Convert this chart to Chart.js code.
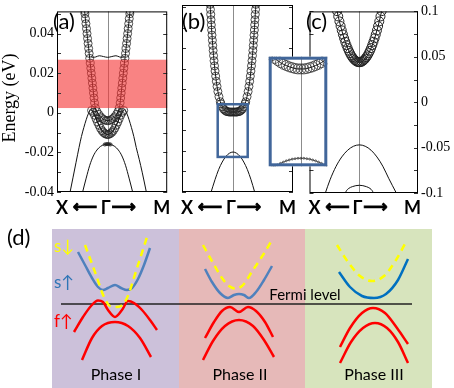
<!DOCTYPE html>
<html>
<head>
<meta charset="utf-8">
<script src="https://cdn.jsdelivr.net/npm/chart.js@4"></script>
<style>
  body { margin: 0; background: #fff; }
  #wrap { position: relative; width: 454px; height: 388px; overflow: hidden; }
  canvas { position: absolute; }
</style>
</head>
<body>
<div id="wrap">
  <canvas id="pa" width="172" height="222" style="left:0;top:0"></canvas>
  <canvas id="pb" width="122" height="222" style="left:176px;top:0"></canvas>
  <canvas id="pc" width="150" height="222" style="left:304px;top:0"></canvas>
  <canvas id="pi" width="70" height="121" style="left:263px;top:51px"></canvas>
  <canvas id="pd" width="454" height="166" style="left:0;top:222px"></canvas>
</div>
<script>
// k runs X <- Gamma(0) -> M, energies in eV
var kRange = [-0.85, 1.0];
var eRangeAB = [-0.04, 0.0512];
var eRangeC = [-0.1, 0.1];
var redWindow = [0.0024, 0.0268];
var zoomBoxK = [-0.255, 0.245];
var zoomBoxE = [-0.0229, 0.0028];

// panel (a)
var aOuterK = [-0.387,-0.382,-0.373,-0.364,-0.355,-0.346,-0.337,-0.328,-0.319,-0.31,-0.301,-0.292,-0.283,-0.274,-0.265,-0.256,-0.247,-0.238,-0.229,-0.22,
  -0.205,-0.18,-0.15,-0.12,-0.09,-0.06,-0.03,0,0.03,0.06,0.09,0.12,0.15,0.175,0.195,
  0.21,0.219,0.228,0.237,0.246,0.255,0.264,0.273,0.282,0.291,0.3,0.309,0.318,0.327,0.336,0.345,0.354,0.363,0.372,0.377];
var aOuterE = [0.0515,0.05,0.0475,0.045,0.0425,0.04,0.0375,0.035,0.0325,0.03,0.0275,0.025,0.0225,0.02,0.0175,0.015,0.0125,0.01,0.0075,0.005,
  0.0025,0.0006,-0.0008,-0.002,-0.0029,-0.0035,-0.0039,-0.004,-0.0039,-0.0035,-0.0029,-0.002,-0.0008,0.0006,0.0025,
  0.005,0.0075,0.01,0.0125,0.015,0.0175,0.02,0.0225,0.025,0.0275,0.03,0.0325,0.035,0.0375,0.04,0.0425,0.045,0.0475,0.05,0.0515];
var aInnerCK = [-0.27,-0.245,-0.22,-0.195,-0.17,-0.145,-0.12,-0.095,-0.07,-0.045,-0.02,0,0.02,0.045,0.07,0.095,0.12,0.145,0.17,0.195,0.22,0.245,0.27];
var aInnerCE = [0.0012,0.0002,-0.0012,-0.003,-0.0047,-0.0063,-0.0078,-0.009,-0.0099,-0.0105,-0.0109,-0.011,-0.0109,-0.0105,-0.0099,-0.009,-0.0078,-0.0063,-0.0047,-0.003,-0.0012,0.0002,0.0012];
var aInnerK = [-0.63,-0.58,-0.53,-0.48,-0.44,-0.4,-0.36,-0.32,-0.28,-0.24,-0.2,-0.15,-0.1,-0.05,0,0.05,0.1,0.15,0.2,0.24,0.28,0.32,0.36,0.4,0.44,0.48,0.53,0.58,0.65];
var aInnerE = [-0.04,-0.0325,-0.025,-0.0175,-0.012,-0.0075,-0.0035,-0.0002,0.0016,0.0,-0.0025,-0.006,-0.0088,-0.0104,-0.011,-0.0104,-0.0088,-0.006,-0.0025,0.0,0.0016,-0.0002,-0.0035,-0.0075,-0.012,-0.0175,-0.0235,-0.03,-0.04];
var aFlatK = [-0.28,-0.25,-0.2,-0.14,-0.07,0,0.07,0.14,0.2,0.25,0.28];
var aFlatE = [0.0283,0.028,0.0282,0.0288,0.0284,0.028,0.0284,0.0288,0.0282,0.028,0.0283];
var aHumpK = [-0.42,-0.36,-0.3,-0.24,-0.18,-0.12,-0.06,0,0.06,0.12,0.18,0.24,0.3,0.36,0.42];
var aHumpE = [-0.04,-0.033,-0.0265,-0.0218,-0.0188,-0.017,-0.0161,-0.0158,-0.0161,-0.017,-0.0188,-0.0218,-0.0265,-0.033,-0.04];
var aHumpDotK = [-0.05,-0.03,-0.01,0.01,0.03,0.05];
var aHumpDotE = [-0.016,-0.0159,-0.0158,-0.0158,-0.0159,-0.016];

// panel (b)
var bBandK = [-0.381,-0.376,-0.371,-0.366,-0.361,-0.356,-0.35,-0.344,-0.338,-0.331,-0.324,-0.316,-0.308,-0.299,-0.289,-0.278,-0.266,-0.252,-0.234,-0.212,
  -0.2,-0.18,-0.16,-0.14,-0.12,-0.1,-0.08,-0.06,-0.04,-0.02,0,0.02,0.04,0.06,0.08,0.1,0.12,0.14,0.16,0.18,0.2,
  0.212,0.234,0.252,0.266,0.278,0.289,0.299,0.308,0.316,0.324,0.331,0.338,0.344,0.35,0.356,0.361,0.366,0.371,0.376,0.381];
var bBandE = [0.0515,0.049,0.0465,0.044,0.0415,0.039,0.0365,0.034,0.0315,0.029,0.0265,0.024,0.0215,0.019,0.0165,0.014,0.0115,0.009,0.0065,0.004,
  0.003,0.0016,0.0006,0.0,-0.0005,-0.0008,-0.0009,-0.001,-0.001,-0.001,-0.001,-0.001,-0.001,-0.001,-0.0009,-0.0008,-0.0005,0.0,0.0006,0.0016,0.003,
  0.004,0.0065,0.009,0.0115,0.014,0.0165,0.019,0.0215,0.024,0.0265,0.029,0.0315,0.034,0.0365,0.039,0.0415,0.044,0.0465,0.049,0.0515];
var bLowK = [-0.37,-0.3,-0.24,-0.18,-0.12,-0.06,0,0.06,0.12,0.18,0.24,0.3,0.36];
var bLowE = [-0.0405,-0.034,-0.0291,-0.0254,-0.0227,-0.0211,-0.0205,-0.0211,-0.0227,-0.0254,-0.0291,-0.034,-0.0399];

// inset of (b)
var insetK = [-0.275, 0.225];
var insetE = [-0.023, 0.003];
var insetUpK = [-0.3,-0.275,-0.25,-0.225,-0.2,-0.175,-0.15,-0.125,-0.1,-0.075,-0.05,-0.025,0,0.025,0.05,0.075,0.1,0.125,0.15,0.175,0.2,0.225,0.25];
var insetUpE = [0.0046,0.0039,0.0032,0.0026,0.0021,0.0016,0.0012,0.0009,0.0006,0.0004,0.0002,0.0001,0.0001,0.0001,0.0002,0.0004,0.0006,0.0009,0.0012,0.0016,0.0021,0.0026,0.0032];
var insetLowK = [-0.275,-0.25,-0.225,-0.2,-0.175,-0.15,-0.125,-0.1,-0.075,-0.05,-0.025,0,0.025,0.05,0.075,0.1,0.125,0.15,0.175,0.2,0.225];
var insetLowE = [-0.0236,-0.0233,-0.023,-0.0227,-0.0223,-0.022,-0.0217,-0.0215,-0.0213,-0.0212,-0.0211,-0.0211,-0.0211,-0.0212,-0.0213,-0.0215,-0.0217,-0.022,-0.0223,-0.0227,-0.0231];

// panel (c)
var cBandK = [-0.38,-0.36,-0.34,-0.32,-0.3,-0.28,-0.26,-0.24,-0.22,-0.2,-0.18,-0.16,-0.14,-0.12,-0.1,-0.08,-0.06,-0.04,-0.02,0,
  0.02,0.04,0.06,0.08,0.1,0.12,0.14,0.16,0.18,0.2,0.22,0.24,0.26,0.28,0.3,0.32,0.34,0.36,0.38];
var cBandE = [0.1003,0.0945,0.089,0.0839,0.0791,0.0746,0.0704,0.0665,0.0629,0.0596,0.0566,0.054,0.0516,0.0496,0.0479,0.0465,0.0454,0.0446,0.0442,0.044,
  0.0442,0.0446,0.0454,0.0465,0.0479,0.0496,0.0516,0.054,0.0566,0.0596,0.0629,0.0665,0.0704,0.0746,0.0791,0.0839,0.089,0.0945,0.1003];
var cLow1K = [-0.58,-0.5,-0.4,-0.3,-0.2,-0.1,0,0.1,0.2,0.3,0.4,0.5,0.63];
var cLow1E = [-0.1,-0.0855,-0.071,-0.0603,-0.0529,-0.0485,-0.047,-0.0485,-0.0529,-0.0603,-0.0705,-0.0838,-0.1];
var cLow2K = [-0.24,-0.22,-0.18,-0.12,-0.06,0,0.06,0.12,0.18,0.22,0.24];
var cLow2E = [-0.1,-0.0975,-0.0949,-0.093,-0.0919,-0.0915,-0.0919,-0.093,-0.0949,-0.0975,-0.1];

// sketch (d): k offset from the phase centre, energy relative to the Fermi level
var phaseNames = ['Phase I', 'Phase II', 'Phase III'];
var phaseCenters = [11.6, 23.9, 37.4];
var phaseEdges = [5.2, 17.9, 30.5, 43.2];
var sketchTop = 7.5;
var fermiSpan = [6.1, 41.2];
var sDown = [
  [[-3.1,5.9],[-2.1,3.2],[-1.2,0.7],[-0.6,-0.2],[0,-0.3],[0.5,-0.2],[1.1,0.6],[2.1,3.6],[3.1,6.7]],
  [[-3.6,5.9],[-2.6,4.1],[-1.7,2.6],[-1.0,1.8],[-0.4,1.55],[0.3,1.8],[1.4,3.4],[2.4,4.9],[3.3,6.4]],
  [[-3.7,5.9],[-2.6,4.2],[-1.4,2.8],[-0.2,2.3],[1.0,2.8],[2.2,4.4],[3.2,6.2]]
];
var sUp = [
  [[-3.8,5.2],[-3.1,3.9],[-2.4,2.6],[-1.8,1.7],[-1.3,1.4],[-0.8,1.6],[-0.1,1.9],[0.5,1.6],[1.1,1.4],[1.6,1.6],[2.2,2.5],[2.8,3.9],[3.4,5.6]],
  [[-3.4,3.5],[-2.7,2.2],[-1.9,1.1],[-1.1,0.6],[-0.5,0.9],[0,1.0],[0.5,0.9],[1.0,0.6],[1.7,1.2],[2.5,2.4],[3.3,3.8]],
  [[-3.5,3.2],[-2.4,1.7],[-1.2,0.8],[0,0.6],[1.2,1.0],[2.4,2.4],[3.4,4.5]]
];
var fUpTop = [
  [[-4.2,-2.8],[-3.3,-1.3],[-2.5,-0.2],[-1.8,0.35],[-1.3,0.2],[-0.8,-0.6],[-0.1,-1.3],[0.6,-0.6],[1.2,0.3],[1.8,0.1],[2.6,-0.6],[3.4,-1.6],[4.1,-2.6]],
  [[-3.4,-3.4],[-2.5,-1.8],[-1.7,-0.7],[-0.9,-0.3],[0,-0.8],[0.9,-0.3],[1.7,-0.7],[2.6,-1.8],[3.4,-3.3]],
  [[-3.4,-4.3],[-2.4,-2.4],[-1.2,-0.9],[-0.1,-0.4],[1.1,-0.9],[2.3,-2.4],[3.4,-4.0]]
];
var fUpLow = [
  [[-3.4,-5.6],[-2.4,-3.4],[-1.4,-2.2],[-0.1,-1.8],[1.2,-2.2],[2.4,-3.4],[3.5,-5.3]],
  [[-3.6,-5.6],[-2.6,-3.7],[-1.4,-2.2],[0,-1.6],[1.4,-2.2],[2.5,-3.6],[3.5,-5.3]],
  [[-3.4,-5.9],[-2.3,-3.8],[-1.1,-2.4],[0.1,-1.9],[1.3,-2.4],[2.4,-3.8],[3.4,-5.9]]
];

function zip(k, e) {
  return k.map(function(v, i) { return {x: v, y: e[i]}; });
}

function bandLine(k, e) {
  return {data: zip(k, e), showLine: true, borderColor: '#111', borderWidth: 1,
    pointRadius: 0, cubicInterpolationMode: 'monotone'};
}

function bandCircles(k, e, r, lw, bw) {
  return {data: zip(k, e), showLine: true, borderColor: '#111', borderWidth: bw || 1,
    pointRadius: r, pointBorderColor: '#222', pointBorderWidth: lw || 0.8,
    pointBackgroundColor: 'rgba(0,0,0,0)', cubicInterpolationMode: 'monotone'};
}

function drawArrowText(ctx, s, x, y) {
  ctx.strokeText(s, x, y);
  ctx.fillText(s, x, y);
}

function panelDeco(opt) {
  return {
    id: 'panelDeco',
    beforeDatasetsDraw: function(chart) {
      var ctx = chart.ctx, a = chart.chartArea;
      ctx.save();
      if (opt.white) {
        ctx.fillStyle = '#fff';
        ctx.fillRect(a.left, a.top, a.right - a.left, a.bottom - a.top);
      }
      var gx = Math.round(chart.scales.x.getPixelForValue(0)) + 0.5;
      ctx.strokeStyle = '#8c8c8c';
      ctx.lineWidth = 1;
      ctx.beginPath();
      ctx.moveTo(gx, a.top);
      ctx.lineTo(gx, a.bottom);
      ctx.stroke();
      ctx.restore();
    },
    afterDatasetsDraw: function(chart) {
      var ctx = chart.ctx, a = chart.chartArea;
      var x = chart.scales.x, y = chart.scales.y;
      ctx.save();
      if (opt.window) {
        var w1 = y.getPixelForValue(opt.window[1]), w0 = y.getPixelForValue(opt.window[0]);
        ctx.fillStyle = 'rgba(245,55,55,0.62)';
        ctx.fillRect(a.left, w1, a.right - a.left, w0 - w1);
      }
      if (opt.box) {
        var bx0 = x.getPixelForValue(opt.box[0][0]), bx1 = x.getPixelForValue(opt.box[0][1]);
        var by0 = y.getPixelForValue(opt.box[1][0]), by1 = y.getPixelForValue(opt.box[1][1]);
        ctx.strokeStyle = '#41669a';
        ctx.lineWidth = 2.5;
        ctx.strokeRect(bx0, by1, bx1 - bx0, by0 - by1);
      }
      if (opt.ticks) {
        ctx.strokeStyle = '#333';
        ctx.lineWidth = 1;
        ctx.beginPath();
        y.ticks.forEach(function(t) {
          var py = Math.round(y.getPixelForValue(t.value)) + 0.5;
          ctx.moveTo(a.left, py); ctx.lineTo(a.left + 4, py);
          ctx.moveTo(a.right - 4, py); ctx.lineTo(a.right, py);
        });
        ctx.stroke();
      }
      ctx.strokeStyle = opt.frame || '#000';
      ctx.lineWidth = opt.frameWidth || 1;
      var h = ctx.lineWidth / 2;
      ctx.strokeRect(a.left + h, a.top + h, a.right - a.left - 2 * h, a.bottom - a.top - 2 * h);

      if (opt.path) {
        var gx = x.getPixelForValue(0), ty = 208;
        ctx.fillStyle = '#000';
        ctx.strokeStyle = '#000';
        ctx.lineWidth = 0.9;
        ctx.textAlign = 'center';
        ctx.textBaseline = 'middle';
        ctx.font = 'bold 18px Lato, sans-serif';
        ctx.fillText('X', a.left + 5, ty);
        ctx.fillText('\u0393', gx - 2, ty);
        ctx.fillText('M', a.right - 5.5, ty);
        ctx.font = 'bold 17px "DejaVu Sans", sans-serif';
        drawArrowText(ctx, '\u27F5', a.left + 28, ty);
        drawArrowText(ctx, '\u27F6', gx + 16, ty);
      }
      if (opt.tag) {
        ctx.fillStyle = '#000';
        ctx.textAlign = 'left';
        ctx.textBaseline = 'middle';
        ctx.font = '22px Lato, sans-serif';
        ctx.fillText(opt.tag[0], opt.tag[1], 22);
      }
      if (opt.ytitle) {
        ctx.translate(10, 98);
        ctx.rotate(-Math.PI / 2);
        ctx.fillStyle = '#000';
        ctx.textAlign = 'center';
        ctx.textBaseline = 'middle';
        ctx.font = '18px "Liberation Serif", serif';
        ctx.fillText('Energy (eV)', 0, 0);
      }
      ctx.restore();
    }
  };
}

var serif = {family: '"Liberation Serif", "Times New Roman", serif', size: 14};

function baseOptions(pad, yAxis) {
  return {
    responsive: false,
    animation: false,
    layout: {padding: pad},
    plugins: {legend: {display: false}, tooltip: {enabled: false}},
    scales: {x: {type: 'linear', min: kRange[0], max: kRange[1], display: false}, y: yAxis}
  };
}

// (a)
new Chart(document.getElementById('pa'), {
  type: 'scatter',
  data: {datasets: [
    bandCircles(aOuterK, aOuterE, 4),
    bandCircles(aInnerCK, aInnerCE, 4),
    bandCircles(aHumpDotK, aHumpDotE, 1.5),
    bandLine(aInnerK, aInnerE),
    bandLine(aFlatK, aFlatE),
    bandLine(aHumpK, aHumpE)
  ]},
  options: baseOptions({top: 5, right: 4, bottom: 30, left: 0}, {
    type: 'linear', position: 'left', min: eRangeAB[0], max: eRangeAB[1],
    afterFit: function(s) { s.width = 57; },
    grid: {display: false, drawTicks: false},
    border: {display: false},
    ticks: {stepSize: 0.01, includeBounds: false, autoSkip: false, padding: 3, color: '#000', font: serif,
      callback: function(v) {
        var r = Math.round(v * 100);
        if (r % 2 !== 0) return '';
        return r === 0 ? '0' : (r / 100).toFixed(2);
      }}
  }),
  plugins: [panelDeco({window: redWindow, ticks: true, path: true, tag: ['(a)', 53], ytitle: true})]
});

// (b)
new Chart(document.getElementById('pb'), {
  type: 'scatter',
  data: {datasets: [
    bandCircles(bBandK, bBandE, 4),
    bandLine(bLowK, bLowE)
  ]},
  options: baseOptions({top: 5, right: 5, bottom: 30, left: 0}, {
    type: 'linear', position: 'left', min: eRangeAB[0], max: eRangeAB[1],
    afterFit: function(s) { s.width = 6; },
    grid: {display: false, drawTicks: false},
    border: {display: false},
    ticks: {stepSize: 0.01, includeBounds: false, display: false}
  }),
  plugins: [panelDeco({box: [zoomBoxK, zoomBoxE], ticks: true, path: true, tag: ['(b)', 6]})]
});

// (c)
new Chart(document.getElementById('pc'), {
  type: 'scatter',
  data: {datasets: [
    bandCircles(cBandK, cBandE, 4.5, 1),
    bandLine(cLow1K, cLow1E),
    bandLine(cLow2K, cLow2E)
  ]},
  options: baseOptions({top: 5, right: 0, bottom: 29, left: 4}, {
    type: 'linear', position: 'right', min: eRangeC[0], max: eRangeC[1],
    afterFit: function(s) { s.width = 36; },
    grid: {display: false, drawTicks: false},
    border: {display: false},
    ticks: {stepSize: 0.025, includeBounds: false, autoSkip: false, padding: 3, color: '#000', font: serif,
      callback: function(v) {
        var r = Math.round(v * 1000);
        if (r % 50 !== 0) return '';
        return r === 0 ? '0' : String(r / 1000);
      }}
  }),
  plugins: [panelDeco({ticks: true, path: true, tag: ['(c)', 2]})]
});

// inset: zoom of the box in (b)
new Chart(document.getElementById('pi'), {
  type: 'scatter',
  data: {datasets: [
    bandCircles(insetUpK, insetUpE, 5, 0.7),
    bandCircles(insetLowK, insetLowE, 1, 0.6, 0.6)
  ]},
  options: {
    responsive: false,
    animation: false,
    layout: {padding: 0},
    plugins: {legend: {display: false}, tooltip: {enabled: false}},
    scales: {
      x: {type: 'linear', min: insetK[0], max: insetK[1], display: false},
      y: {type: 'linear', min: insetE[0], max: insetE[1], display: false}
    }
  },
  plugins: [panelDeco({white: true, frame: '#41669a', frameWidth: 3})]
});

// (d) schematic
function shifted(curve, c) {
  return curve.map(function(p) { return {x: c + p[0], y: p[1]}; });
}
var dSets = [];
phaseCenters.forEach(function(c, i) {
  dSets.push({data: shifted(sDown[i], c), borderColor: '#ffff00', borderWidth: 2.5, borderDash: [7, 5]});
  dSets.push({data: shifted(sUp[i], c), borderColor: i === 2 ? '#0070c0' : '#4f81bd', borderWidth: 2.5});
  dSets.push({data: shifted(fUpTop[i], c), borderColor: '#ff0000', borderWidth: 2.5});
  dSets.push({data: shifted(fUpLow[i], c), borderColor: '#ff0000', borderWidth: 2.5});
});
dSets.push({data: [{x: fermiSpan[0], y: 0}, {x: fermiSpan[1], y: 0}], borderColor: '#222', borderWidth: 1.5});
dSets.forEach(function(d) {
  d.showLine = true;
  d.pointRadius = 0;
  d.cubicInterpolationMode = 'monotone';
});

var phaseColors = ['#ccc1da', '#e6b9b8', '#d7e4bd'];

new Chart(document.getElementById('pd'), {
  type: 'scatter',
  data: {datasets: dSets},
  options: {
    responsive: false,
    animation: false,
    layout: {padding: 0},
    plugins: {legend: {display: false}, tooltip: {enabled: false}},
    scales: {
      x: {type: 'linear', min: 0, max: 45.4, display: false},
      y: {type: 'linear', min: -8.4, max: 8.2, display: false}
    }
  },
  plugins: [{
    id: 'sketchDeco',
    beforeDatasetsDraw: function(chart) {
      var ctx = chart.ctx, x = chart.scales.x, y = chart.scales.y, a = chart.chartArea;
      var top = y.getPixelForValue(sketchTop);
      ctx.save();
      for (var i = 0; i < phaseColors.length; i++) {
        var l = x.getPixelForValue(phaseEdges[i]), r = x.getPixelForValue(phaseEdges[i + 1]);
        ctx.fillStyle = phaseColors[i];
        ctx.fillRect(l, top, r - l, a.bottom - top);
      }
      ctx.restore();
    },
    afterDatasetsDraw: function(chart) {
      var ctx = chart.ctx, x = chart.scales.x;
      ctx.save();
      ctx.textBaseline = 'middle';
      ctx.textAlign = 'left';
      ctx.fillStyle = '#000';
      ctx.font = '22px Lato, sans-serif';
      ctx.fillText('(d)', 7, 16);
      ctx.font = '17px Lato, "DejaVu Sans", sans-serif';
      ctx.fillStyle = '#ffff00';
      ctx.fillText('s\u2193', 54, 25);
      ctx.fillStyle = '#2e75b6';
      ctx.fillText('s\u2191', 54, 61);
      ctx.fillStyle = '#ff0000';
      ctx.fillText('f\u2191', 54, 100);
      ctx.fillStyle = '#000';
      ctx.textAlign = 'center';
      ctx.font = '15px Lato, sans-serif';
      ctx.fillText('Fermi level', 305, 73);
      ctx.font = '16px Lato, sans-serif';
      phaseNames.forEach(function(n, i) {
        ctx.fillText(n, x.getPixelForValue(phaseCenters[i]) + (i === 1 ? 1 : 0), 153);
      });
      ctx.restore();
    }
  }]
});
</script>
</body>
</html>
